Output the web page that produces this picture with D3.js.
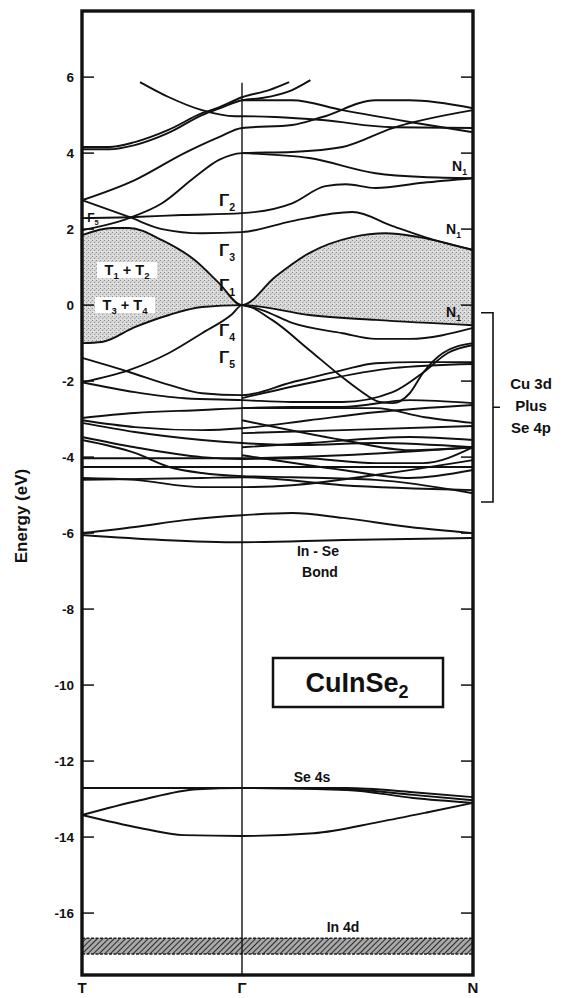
<!DOCTYPE html>
<html>
<head>
<meta charset="utf-8">
<script src="https://cdn.jsdelivr.net/npm/d3@7"></script>
<style>
  body { margin: 0; background: #fff; }
  svg { display: block; }
  text { font-family: "Liberation Sans", Arial, Helvetica, sans-serif; font-weight: bold; fill: #111; }
</style>
</head>
<body>
<svg id="chart" width="569" height="998"></svg>
<script>
// k-path: T (0) → Γ (1) → N (2)
const kPoints = [0, 1, 2];
const kLabels = ["T", "Γ", "N"];
const energyTicks = [6, 4, 2, 0, -2, -4, -6, -8, -10, -12, -14, -16];
const energyRange = [-17.63, 7.74];

// Conduction bands, each as [k, E(eV)]
const conductionBands = [
  [[0,4.16],[0.17,4.16],[0.33,4.29],[0.54,4.61],[0.75,5.05],[0.86,5.21],[1,5.47],[1.117,5.66],[1.204,5.87]],
  [[0,4.10],[0.17,4.10],[0.33,4.21],[0.54,4.53],[0.75,5.0],[0.86,5.18],[1,5.39],[1.087,5.45],[1.217,5.66],[1.296,5.92]],
  [[0.3625,5.87],[0.544,5.47],[0.75,5.13],[0.956,4.97],[1,4.97],[1.143,4.95],[1.348,4.87],[1.652,4.68],[2,4.66]],
  [[1,5.39],[1.217,5.39],[1.435,5.13],[1.726,4.82],[2,4.55]],
  [[0,2.76],[0.33,3.29],[0.64,4.0],[0.856,4.42],[1,4.66],[1.217,4.74],[1.348,4.95],[1.578,5.39],[1.726,5.39],[2,5.18]],
  [[0,1.97],[0.294,2.29],[0.5,2.68],[0.706,3.37],[0.856,3.82],[1,4.0],[1.217,4.03],[1.435,4.16],[1.652,4.66],[2,5.13]],
  [[1,4.0],[1.291,3.87],[1.578,3.47],[1.783,3.37],[2,3.34]],
  [[0,2.29],[0.33,2.32],[0.625,2.37],[1,2.42],[1.217,2.68],[1.361,3.13],[1.45,3.18],[1.578,3.08],[1.783,3.22],[2,3.34]],
  [[0,2.76],[0.294,2.32],[0.5,2.0],[0.75,1.89],[1,1.92],[1.217,2.21],[1.478,2.45],[1.652,2.08],[1.791,1.79],[2,1.45]]
];

// Lowest conduction band (upper edge of the shaded gap region)
const conductionEdge = [[0,1.84],[0.1875,2.03],[0.294,2.03],[0.5,1.71],[0.706,1.18],[0.856,0.58],[1,0],
  [1.143,0.74],[1.291,1.37],[1.478,1.79],[1.622,1.89],[1.765,1.79],[2,1.45]];

// Highest valence band (lower edge of the shaded region)
const valenceEdge = [[0,-1.0],[0.125,-0.97],[0.33,-0.58],[0.544,-0.26],[0.75,-0.05],[1,0],
  [1.291,-0.26],[1.578,-0.39],[2,-0.53]];

// Cu 3d + Se 4p valence manifold
const valenceBands = [
  [[0,-1.39],[0.294,-1.76],[0.544,-2.1],[0.75,-2.32],[1,-2.37],[1.217,-2.03],[1.435,-1.71],[1.578,-1.53],[1.752,-1.5],[2,-1.5]],
  [[0,-2.03],[0.294,-1.71],[0.544,-1.26],[0.75,-0.74],[0.9375,-0.24],[1,0],[1.13,-0.39],[1.291,-1.18],[1.422,-1.84],[1.509,-2.24],[1.596,-2.55],[1.652,-2.58],[1.726,-2.32],[1.783,-1.79],[1.87,-1.26],[2,-1.0]],
  [[1,0],[1.087,-0.13],[1.217,-0.47],[1.435,-0.74],[1.578,-0.89],[1.726,-0.89],[2,-0.6]],
  [[0,-2.03],[0.33,-2.29],[0.64,-2.45],[1,-2.5],[1.217,-2.55],[1.435,-2.55],[1.652,-2.29],[1.787,-1.76],[1.891,-1.26],[2,-1.05]],
  [[1,-2.45],[1.291,-2.05],[1.652,-1.66],[2,-1.55]],
  [[0,-2.97],[0.33,-2.84],[0.75,-2.76],[1,-2.71],[1.217,-2.68],[1.435,-2.68],[1.726,-2.5],[2,-2.58]],
  [[0,-3.03],[0.33,-3.21],[0.75,-3.29],[1,-3.24],[1.291,-3.03],[1.578,-2.82],[2,-2.63]],
  [[0,-3.1],[0.33,-3.34],[0.75,-3.55],[1,-3.63],[1.26,-3.68],[1.578,-3.63],[2,-3.74]],
  [[0,-3.47],[0.33,-3.74],[0.75,-4.0],[1,-4.05],[1.26,-4.03],[1.578,-4.16],[1.783,-4.16],[2,-3.74]],
  [[0,-3.55],[0.33,-3.89],[0.544,-4.26],[0.75,-4.42],[1,-4.5],[1.217,-4.53],[1.578,-4.6],[2,-4.95]],
  [[0,-4.03],[1,-4.03],[1.435,-3.95],[2,-3.74]],
  [[0,-4.26],[1,-4.26],[1.435,-4.26],[2,-4.26]],
  [[0,-4.55],[0.33,-4.6],[0.75,-4.79],[1,-4.79],[1.217,-4.74],[1.578,-4.47],[2,-4.08]],
  [[0,-4.6],[0.75,-4.55],[1,-4.53],[1.435,-4.74],[2,-4.87]],
  [[1,-2.71],[1.291,-2.71],[1.578,-2.71],[1.791,-2.95],[2,-3.1]],
  [[1,-3.37],[1.435,-3.29],[2,-3.18]],
  [[1,-3.03],[1.435,-3.55],[1.726,-3.82],[2,-3.74]],
  [[1,-3.74],[1.291,-3.63],[1.726,-3.47],[2,-3.55]],
  [[1,-3.95],[1.435,-4.34],[1.726,-4.55],[2,-4.34]]
];

// In–Se bonding bands
const inSeBands = [
  [[0,-6.0],[0.33,-5.84],[0.64,-5.66],[1,-5.53],[1.217,-5.47],[1.435,-5.6],[1.726,-5.84],[2,-6.0]],
  [[0,-6.05],[0.5,-6.18],[1,-6.24],[1.435,-6.18],[2,-6.13]]
];

// Se 4s bands
const se4sBands = [
  [[0,-12.71],[1,-12.71],[1.453,-12.71],[1.741,-12.82],[2,-12.95]],
  [[1,-12.71],[1.453,-12.74],[1.741,-12.89],[2,-13.03]],
  [[0,-13.42],[0.3625,-13.03],[0.72,-12.74],[1,-12.71],[1.453,-12.76],[1.741,-12.97],[2,-13.1]],
  [[0,-13.42],[0.3625,-13.76],[0.6375,-13.95],[1,-13.97],[1.31,-13.9],[1.595,-13.6],[1.81,-13.34],[2,-13.1]]
];

// In 4d band (energy window)
const in4dBand = [-17.08, -16.66];

// ---------------------------------------------------------------
const svg = d3.select("#chart");
const x = d3.scaleLinear().domain(kPoints).range([82, 242, 473]);
const y = d3.scaleLinear().domain(energyRange).range([975, 11]);
const [x0, x1] = [x(0), x(2)];
const [yTop, yBot] = [y(energyRange[1]), y(energyRange[0])];

const defs = svg.append("defs");

// stippled grey for the gap region
const stip = defs.append("pattern").attr("id", "stipple").attr("patternUnits", "userSpaceOnUse")
  .attr("width", 4).attr("height", 4);
stip.append("rect").attr("width", 4).attr("height", 4).attr("fill", "#d8d8d8");
stip.append("rect").attr("x", 0).attr("y", 0).attr("width", 1).attr("height", 1).attr("fill", "#8e8e8e");
stip.append("rect").attr("x", 2).attr("y", 2).attr("width", 1).attr("height", 1).attr("fill", "#9c9c9c");
stip.append("rect").attr("x", 3).attr("y", 1).attr("width", 1).attr("height", 1).attr("fill", "#bdbdbd");
stip.append("rect").attr("x", 1).attr("y", 3).attr("width", 1).attr("height", 1).attr("fill", "#eaeaea");

// diagonal hatch for the In 4d level
const hatch = defs.append("pattern").attr("id", "hatch").attr("patternUnits", "userSpaceOnUse")
  .attr("width", 4).attr("height", 4).attr("patternTransform", "rotate(45)");
hatch.append("rect").attr("width", 4).attr("height", 4).attr("fill", "#a8a8a8");
hatch.append("line").attr("x1", 0).attr("y1", 0).attr("x2", 0).attr("y2", 4)
  .attr("stroke", "#2a2a2a").attr("stroke-width", 2);

const line = d3.line().x(d => x(d[0])).y(d => y(d[1])).curve(d3.curveMonotoneX);

// shaded gap: below conduction edge and above valence edge
defs.append("clipPath").attr("id", "belowCB").append("path")
  .attr("d", d3.area().x(d => x(d[0])).y0(yBot).y1(d => y(d[1])).curve(d3.curveMonotoneX)(conductionEdge));
svg.append("path")
  .attr("d", d3.area().x(d => x(d[0])).y0(yTop).y1(d => y(d[1])).curve(d3.curveMonotoneX)(valenceEdge))
  .attr("fill", "url(#stipple)").attr("clip-path", "url(#belowCB)");

// In 4d band
svg.append("rect").attr("x", x0).attr("width", x1 - x0)
  .attr("y", y(in4dBand[1])).attr("height", y(in4dBand[0]) - y(in4dBand[1]))
  .attr("fill", "url(#hatch)");
in4dBand.forEach(e => svg.append("line").attr("x1", x0).attr("x2", x1).attr("y1", y(e)).attr("y2", y(e))
  .attr("stroke", "#222").attr("stroke-width", 1.5).attr("stroke-dasharray", "3,1.5"));

// Γ vertical line
svg.append("line").attr("x1", x(1)).attr("x2", x(1)).attr("y1", y(5.85)).attr("y2", yBot)
  .attr("stroke", "#111").attr("stroke-width", 1.4);

// bands
const allBands = [...conductionBands, conductionEdge, valenceEdge, ...valenceBands, ...inSeBands, ...se4sBands];
svg.append("g").selectAll("path").data(allBands).join("path")
  .attr("d", line).attr("fill", "none").attr("stroke", "#111").attr("stroke-width", 1.9)
  .attr("stroke-linejoin", "round");

// frame
svg.append("rect").attr("x", x0).attr("y", yTop).attr("width", x1 - x0).attr("height", yBot - yTop)
  .attr("fill", "none").attr("stroke", "#111").attr("stroke-width", 3.4);

// ticks: inward on both sides
const tickG = svg.append("g");
energyTicks.forEach(e => {
  tickG.append("line").attr("x1", x0).attr("x2", x0 + 12).attr("y1", y(e)).attr("y2", y(e))
    .attr("stroke", "#111").attr("stroke-width", 1.5);
  tickG.append("line").attr("x1", x1 - 12).attr("x2", x1).attr("y1", y(e)).attr("y2", y(e))
    .attr("stroke", "#111").attr("stroke-width", 1.5);
  tickG.append("text").attr("x", x0 - 8).attr("y", y(e)).attr("dy", "0.35em")
    .attr("text-anchor", "end").attr("font-size", 13.5).text(String(e));
});

// k-point labels
kPoints.forEach((k, i) => svg.append("text").attr("x", x(k)).attr("y", 993)
  .attr("text-anchor", "middle").attr("font-size", 15).text(kLabels[i]));

// axis title
svg.append("text").attr("transform", "translate(27,516) rotate(-90)")
  .attr("text-anchor", "middle").attr("font-size", 17).text("Energy (eV)");

// symmetry labels with subscripts
function symLabel(xp, yp, main, sub, size, anchor) {
  const t = svg.append("text").attr("x", xp).attr("y", yp).attr("font-size", size)
    .attr("text-anchor", anchor || "middle").attr("dy", "0.35em");
  t.append("tspan").text(main);
  t.append("tspan").attr("font-size", size * 0.62).attr("dy", size * 0.28).text(sub);
  return t;
}
[["2", 2.76], ["3", 1.45], ["1", 0.53], ["4", -0.66], ["5", -1.37]].forEach(([s, e]) =>
  symLabel(227, y(e), "Γ", s, 17));
symLabel(93, y(2.3), "Γ", "5", 12);
[[3.66, 467], [2.0, 461], [-0.18, 461]].forEach(([e, xp]) => symLabel(xp, y(e), "N", "1", 14, "end"));

// T-point labels on white patches
function tLabel(cx, e, a, b) {
  svg.append("rect").attr("x", cx - 30).attr("y", y(e) - 8).attr("width", 60).attr("height", 16).attr("fill", "#fff");
  const t = svg.append("text").attr("x", cx).attr("y", y(e)).attr("dy", "0.35em")
    .attr("text-anchor", "middle").attr("font-size", 14.5);
  t.append("tspan").text("T");
  t.append("tspan").attr("font-size", 9.5).attr("dy", 4).text(a);
  t.append("tspan").attr("dy", -4).text(" + T");
  t.append("tspan").attr("font-size", 9.5).attr("dy", 4).text(b);
}
tLabel(127, 0.92, "1", "2");
tLabel(125, 0.0, "3", "4");

// bracket for Cu 3d + Se 4p region
const bTop = y(-0.2), bBot = y(-5.18), bx = x1 + 20;
svg.append("path").attr("d", `M${x1 + 8},${bTop}H${bx}V${bBot}H${x1 + 8}M${bx},${(bTop + bBot) / 2}H${bx + 7}`)
  .attr("fill", "none").attr("stroke", "#111").attr("stroke-width", 1.6);
["Cu 3d", "Plus", "Se 4p"].forEach((s, i) => svg.append("text").attr("x", 531).attr("y", 384 + i * 22)
  .attr("dy", "0.35em").attr("text-anchor", "middle").attr("font-size", 15).text(s));

// region annotations
svg.append("text").attr("x", 318).attr("y", 551).attr("dy", "0.35em").attr("text-anchor", "middle")
  .attr("font-size", 14).text("In - Se");
svg.append("text").attr("x", 320).attr("y", 572).attr("dy", "0.35em").attr("text-anchor", "middle")
  .attr("font-size", 14).text("Bond");
svg.append("text").attr("x", 312).attr("y", 777).attr("dy", "0.35em").attr("text-anchor", "middle")
  .attr("font-size", 14).text("Se 4s");
svg.append("text").attr("x", 343).attr("y", 927).attr("dy", "0.35em").attr("text-anchor", "middle")
  .attr("font-size", 14).text("In 4d");

// compound label
svg.append("rect").attr("x", 273).attr("y", 658).attr("width", 170).attr("height", 49)
  .attr("fill", "#fff").attr("stroke", "#111").attr("stroke-width", 2.5);
const cl = svg.append("text").attr("x", 357).attr("y", 683).attr("dy", "0.35em")
  .attr("text-anchor", "middle").attr("font-size", 27);
cl.append("tspan").text("CuInSe");
cl.append("tspan").attr("font-size", 18).attr("dy", 6).text("2");
</script>
</body>
</html>
